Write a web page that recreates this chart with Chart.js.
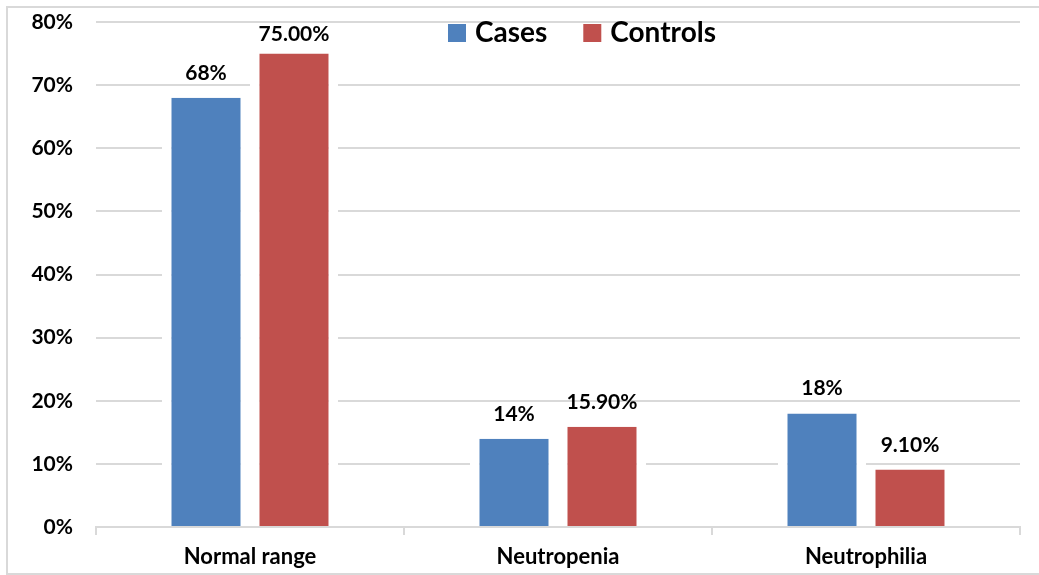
<!DOCTYPE html>
<html>
<head>
<meta charset="utf-8">
<title>Neutrophil count: cases vs controls</title>
<script src="https://cdn.jsdelivr.net/npm/chart.js@4.4.1/dist/chart.umd.min.js"></script>
<style>
    html, body { margin: 0; padding: 0; background: #fff; }
    #chart { display: block; }
</style>
</head>
<body>
<canvas id="chart" width="1039" height="575"></canvas>
<script>
// Data
const categories = ['Normal range', 'Neutropenia', 'Neutrophilia'];
const seriesNames = ['Cases', 'Controls'];
const casesValues = [68, 14, 18];
const controlsValues = [75, 15.9, 9.1];
const labelDecimals = [0, 2];
const yTicks = [0, 10, 20, 30, 40, 50, 60, 70, 80];

const FONT = 'Lato, "Open Sans", sans-serif';
const GRID = '#d9d9d9';

// Light frame round the whole picture
const framePlugin = {
    id: 'frame',
    beforeDraw(chart) {
        const ctx = chart.ctx;
        ctx.save();
        ctx.fillStyle = '#fff';
        ctx.fillRect(0, 0, chart.width, chart.height);
        ctx.strokeStyle = GRID;
        ctx.lineWidth = 2;
        ctx.strokeRect(7, 7, chart.width + 10, 567);
        ctx.restore();
    }
};

// Value labels above each bar
const valueLabels = {
    id: 'valueLabels',
    afterDatasetsDraw(chart) {
        const ctx = chart.ctx;
        ctx.save();
        ctx.font = 'bold 21px ' + FONT;
        ctx.fillStyle = '#000';
        ctx.textAlign = 'center';
        ctx.textBaseline = 'alphabetic';
        chart.data.datasets.forEach((ds, i) => {
            chart.getDatasetMeta(i).data.forEach((bar, j) => {
                const txt = ds.data[j].toFixed(labelDecimals[i]) + '%';
                const y = Math.max(bar.y - 18, chart.chartArea.top + 19);
                ctx.fillText(txt, bar.x, y);
            });
        });
        ctx.restore();
    }
};

// Legend sitting inside the plot, near the top
const insideLegend = {
    id: 'insideLegend',
    afterDraw(chart) {
        const ctx = chart.ctx;
        ctx.save();
        ctx.font = 'bold 28px ' + FONT;
        ctx.textBaseline = 'alphabetic';
        const box = 18, gapText = 9, gapItem = 36;
        const items = chart.data.datasets.map(ds => ({
            label: ds.label,
            color: ds.backgroundColor,
            w: ctx.measureText(ds.label).width
        }));
        let total = 0;
        items.forEach((it, i) => {
            total += box + gapText + it.w + (i < items.length - 1 ? gapItem : 0);
        });
        let x = 582 - total / 2;
        items.forEach(it => {
            ctx.fillStyle = it.color;
            ctx.fillRect(x, 24, box, box);
            ctx.fillStyle = '#000';
            ctx.fillText(it.label, x + box + gapText, 42);
            x += box + gapText + it.w + gapItem;
        });
        ctx.restore();
    }
};

// White side borders give the gap between the two bars of a group
const barGap = { left: 9.5, right: 9.5, top: 0, bottom: 0 };

new Chart(document.getElementById('chart'), {
    type: 'bar',
    data: {
        labels: categories,
        datasets: [{
            label: seriesNames[0],
            data: casesValues,
            backgroundColor: '#4F81BD',
            borderColor: '#fff',
            borderWidth: barGap,
            borderSkipped: false
        }, {
            label: seriesNames[1],
            data: controlsValues,
            backgroundColor: '#C0504D',
            borderColor: '#fff',
            borderWidth: barGap,
            borderSkipped: false
        }]
    },
    options: {
        responsive: false,
        animation: false,
        devicePixelRatio: 1,
        categoryPercentage: 0.5714,
        barPercentage: 1,
        layout: {
            padding: { top: 22, right: 19, bottom: 0, left: 0 }
        },
        plugins: {
            legend: { display: false },
            tooltip: { enabled: false }
        },
        scales: {
            x: {
                grid: {
                    drawOnChartArea: false,
                    drawTicks: true,
                    tickLength: 8,
                    color: GRID,
                    lineWidth: 2
                },
                border: { display: true, color: GRID, width: 2 },
                ticks: {
                    color: '#000',
                    padding: 9,
                    font: { family: FONT, size: 22, weight: 'bold' }
                },
                afterFit(scale) { scale.height = 48; }
            },
            y: {
                min: yTicks[0],
                max: yTicks[yTicks.length - 1],
                afterBuildTicks(scale) {
                    scale.ticks = yTicks.map(v => ({ value: v }));
                },
                grid: {
                    drawTicks: true,
                    tickLength: 23,
                    tickColor: 'rgba(0,0,0,0)',
                    color: GRID,
                    lineWidth: 2
                },
                border: { display: false },
                ticks: {
                    color: '#000',
                    padding: 0,
                    font: { family: FONT, size: 21, weight: 'bold' },
                    callback: v => v + '%'
                },
                afterFit(scale) { scale.width = 96; }
            }
        }
    },
    plugins: [framePlugin, valueLabels, insideLegend]
});
</script>
</body>
</html>
